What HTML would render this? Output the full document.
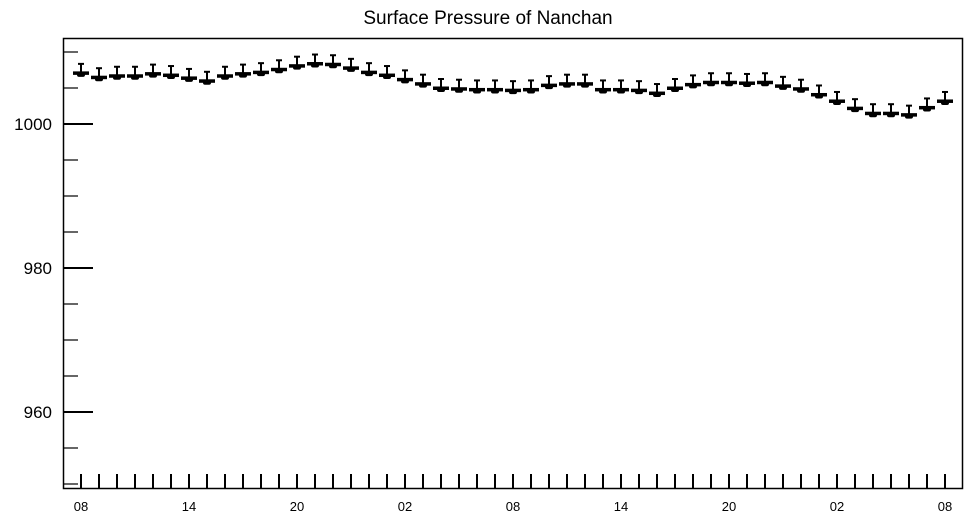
<!DOCTYPE html>
<html><head><meta charset="utf-8"><style>
body{margin:0;background:#fff;}
svg text{font-family:"Liberation Sans",Arial,sans-serif;fill:#000;}
</style></head><body>
<svg width="968" height="518" viewBox="0 0 968 518">
<text x="488" y="24" text-anchor="middle" font-size="19">Surface Pressure of Nanchan</text>
<rect x="63.5" y="38.5" width="899" height="450" fill="none" stroke="#000" stroke-width="1.5"/>
<g id="yaxis"></g>
<g id="xaxis"></g>
<g id="series"></g>
</svg>
<script>
const hourLabels = ["08","09","10","11","12","13","14","15","16","17","18","19","20","21","22","23","00","01","02","03","04","05","06","07","08","09","10","11","12","13","14","15","16","17","18","19","20","21","22","23","00","01","02","03","04","05","06","07","08"];
const pressure = [1007.1,1006.5,1006.7,1006.7,1007.0,1006.8,1006.4,1006.0,1006.7,1007.0,1007.2,1007.6,1008.1,1008.4,1008.3,1007.8,1007.2,1006.8,1006.2,1005.6,1005.0,1004.9,1004.8,1004.8,1004.7,1004.8,1005.4,1005.6,1005.6,1004.8,1004.8,1004.7,1004.3,1005.0,1005.5,1005.8,1005.8,1005.7,1005.8,1005.3,1004.9,1004.1,1003.2,1002.2,1001.5,1001.5,1001.3,1002.3,1003.2];
const yTickValues = [1010,1005,1000,995,990,985,980,975,970,965,960,955,950];
const yLabelValues = [1000,980,960];
const NS="http://www.w3.org/2000/svg";
function yScale(v){return 124+(1000-v)*7.2;}
function xScale(i){return 81+i*18;}
function mk(tag,attrs,parent){const e=document.createElementNS(NS,tag);for(const k in attrs)e.setAttribute(k,attrs[k]);parent.appendChild(e);return e;}
const ya=document.getElementById('yaxis'),xa=document.getElementById('xaxis'),sg=document.getElementById('series');
yTickValues.forEach(v=>{
  const y=yScale(v);const major=yLabelValues.includes(v);
  const t=mk('line',{x1:63,x2:major?93:78,y1:y,y2:y,stroke:'#000','stroke-width':major?2:1.2},ya);
  
  
  if(major){const l=mk('text',{x:52,y:y+6,'text-anchor':'end','font-size':'17'},ya);l.textContent=v;
    
    }
});
hourLabels.forEach((h,i)=>{
  const x=xScale(i);
  const t=mk('line',{x1:x,x2:x,y1:474,y2:489,stroke:'#000','stroke-width':2},xa);
  
  
  if(i%6===0){const l=mk('text',{x:x,y:511,'text-anchor':'middle','font-size':'13'},xa);l.textContent=h;
    
    }
});
pressure.forEach((v,i)=>{
  const x=xScale(i),y=yScale(v);
  const g=mk('g',{},sg);
  
  
  mk('line',{x1:x,x2:x,y1:y,y2:y-9,stroke:'#000','stroke-width':2},g);
  mk('line',{x1:x-3,x2:x+3,y1:y-9,y2:y-9,stroke:'#000','stroke-width':2},g);
  mk('rect',{x:x-8,y:y-1.5,width:16,height:3.5,fill:'#000'},g);
  mk('rect',{x:x-4,y:y-1,width:8,height:5,rx:2,fill:'#000'},g);
});
</script>
</body></html>
